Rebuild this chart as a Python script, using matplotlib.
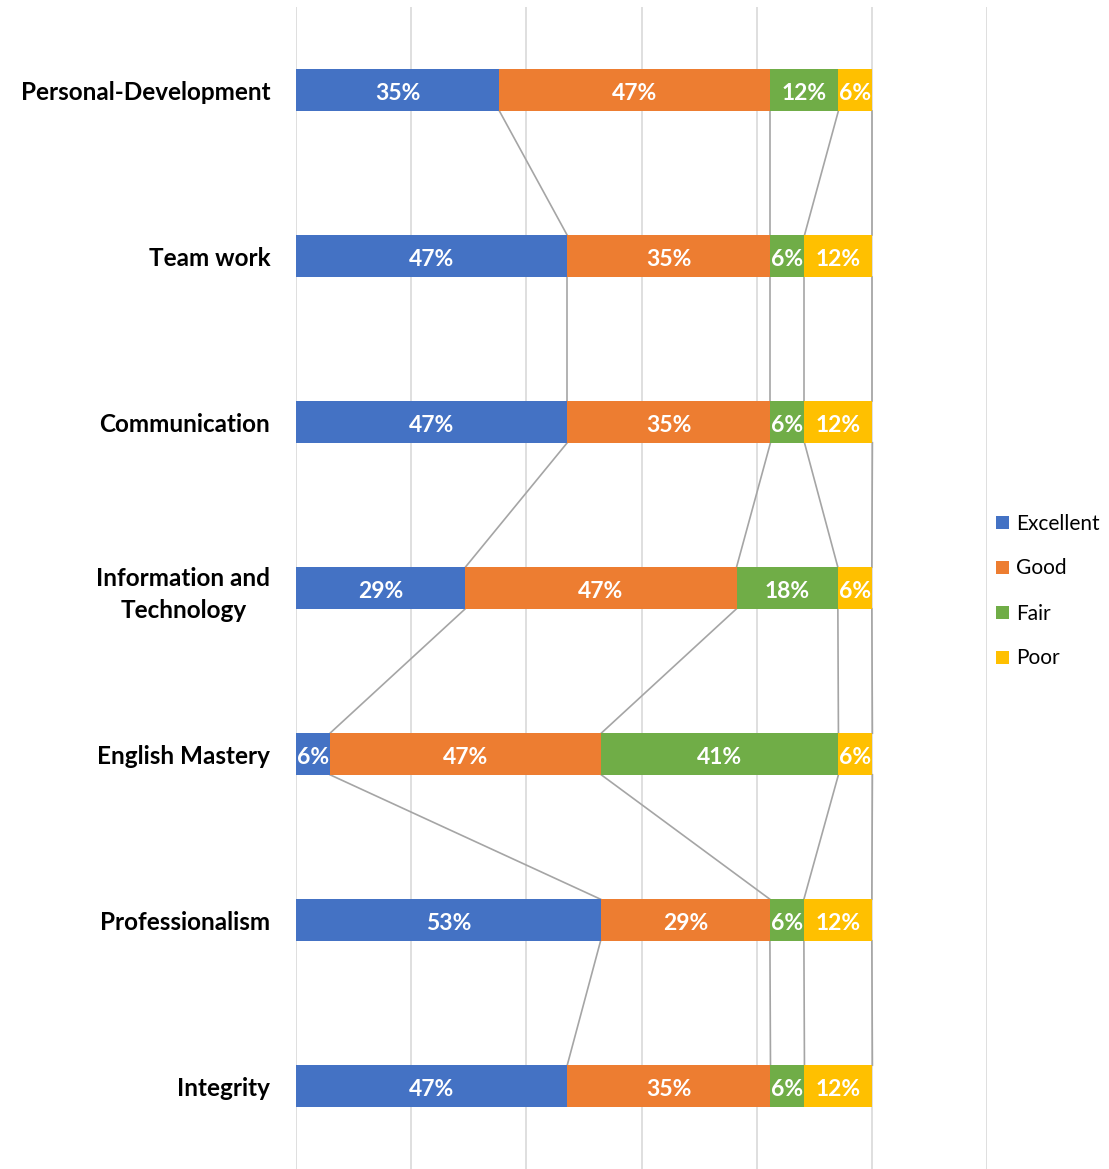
import matplotlib
matplotlib.use('Agg')
import matplotlib.pyplot as plt
import numpy as np

plt.rcParams['font.family'] = ['Lato', 'DejaVu Sans']

categories = ['Personal-Development', 'Team work', 'Communication',
              'Information and\nTechnology', 'English Mastery',
              'Professionalism', 'Integrity']
excellent = [35.3, 47.1, 47.1, 29.4, 5.9, 52.9, 47.1]
good = [47.1, 35.3, 35.3, 47.1, 47.1, 29.4, 35.3]
fair = [11.8, 5.9, 5.9, 17.6, 41.2, 5.9, 5.9]
poor = [5.9, 11.8, 11.8, 5.9, 5.9, 11.8, 11.8]
series = {'Excellent': excellent, 'Good': good, 'Fair': fair, 'Poor': poor}
colors = ['#4472C4', '#ED7D31', '#70AD47', '#FFC000']

fig = plt.figure(figsize=(11.09, 11.69), dpi=100)
ax = fig.add_axes([296/1109, 0, (987-296)/1109, 1-7/1169])

y = np.arange(len(categories))
h = 0.25
left = np.zeros(len(categories))
edges = []
for (name, vals), c in zip(series.items(), colors):
    vals = np.array(vals)
    ax.barh(y, vals, left=left, height=h, color=c, label=name, zorder=3)
    for yi, l, v in zip(y, left, vals):
        ax.text(l + v/2, yi + 0.02, f'{v:.0f}%', ha='center', va='center',
                color='white', fontsize=16.5, fontweight='bold', zorder=4)
    left = left + vals
    edges.append(left.copy())

# series lines between bars
for e in edges:
    for i in range(len(categories) - 1):
        ax.plot([e[i], e[i+1]], [y[i] + h/2, y[i+1] - h/2],
                color='#A5A5A5', lw=1.2, zorder=2)

ax.set_xlim(0, 120)
ax.set_ylim(len(categories) - 0.5, -0.5)
ax.set_xticks(np.arange(0, 121, 20))
ax.xaxis.grid(True, color='#D9D9D9', lw=1.2, zorder=0)
ax.tick_params(axis='x', bottom=False, labelbottom=False)
ax.tick_params(axis='y', left=False, pad=15)
ax.set_yticks(y)
ax.set_yticklabels(categories, fontsize=17.5, fontweight='bold', ha='right',
                   multialignment='center', linespacing=1.45)
for s in ax.spines.values():
    s.set_visible(False)

fig.legend(loc='center left', bbox_to_anchor=(988/1109, 1 - 591/1169),
           frameon=False, fontsize=15, handlelength=0.6, handleheight=0.6,
           labelspacing=1.2, handletextpad=0.35, borderaxespad=0)

fig.savefig('out.png', dpi=100)
